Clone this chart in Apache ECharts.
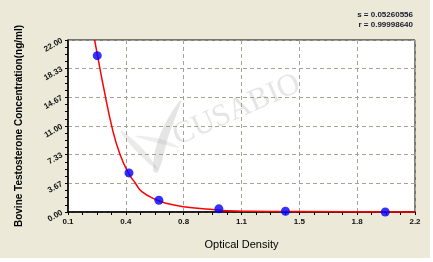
<!DOCTYPE html>
<html><head><meta charset="utf-8">
<script src="https://cdn.jsdelivr.net/npm/echarts@6/dist/echarts.min.js"></script>
<style>html,body{margin:0;padding:0;background:#fff}#c{width:433px;height:262px}</style>
</head><body><div id="c"></div>
<script>
// Data
const pointX = [0.277, 0.469, 0.65, 1.013, 1.416, 2.02];
const pointY = [20.0, 5.0, 1.5, 0.4, 0.1, 0.0];
const curveX = [0.261, 0.277, 0.313, 0.37, 0.416, 0.467, 0.507, 0.547, 0.638, 0.70, 0.799, 0.96, 1.06, 1.20, 1.44];
const curveY = [22.0, 20.2, 16.2, 10.5, 7.29, 4.95, 3.71, 2.60, 1.53, 1.08, 0.68, 0.34, 0.17, 0.09, 0.05];
const tailX = [1.44, 1.45, 2.2];
const tailY = [0.05, 0.0, 0.0];
const xTickLabels = ['0.1', '0.4', '0.8', '1.1', '1.5', '1.8', '2.2'];
const yTickLabels = ['0.00', '3.67', '7.33', '11.00', '14.67', '18.33', '22.00'];
const statS = 's = 0.05260556';
const statR = 'r = 0.99998640';

const font = '"Liberation Sans", Arial, sans-serif';
const chart = echarts.init(document.getElementById('c'), null, {renderer: 'canvas'});
const xMin = 0.1, xMax = 2.2, xInt = (xMax - xMin) / (xTickLabels.length - 1);
const yMax = 22, yInt = yMax / (yTickLabels.length - 1);
const wm = 'rgba(150,150,150,0.25)';
chart.setOption({
  animation: false,
  backgroundColor: '#fff',
  graphic: [
    {type: 'rect', shape: {x: 0, y: 0, width: 430, height: 258}, style: {fill: '#ECE9D8'}, z: -10, silent: true},
    {type: 'text', x: 413, y: 11, style: {text: statS, font: 'bold 8px ' + font, fill: '#1a1a2e', textAlign: 'right'}},
    {type: 'text', x: 413, y: 21, style: {text: statR, font: 'bold 8px ' + font, fill: '#1a1a2e', textAlign: 'right'}},
    {type: 'text', x: 181, y: 152, rotation: 0.42, style: {text: 'CUSABIO', font: '31px "Liberation Serif", serif', fill: wm, textVerticalAlign: 'bottom'}, z: 100, silent: true},
    {type: 'polygon', shape: {points: [[153,170],[160,135],[181,100],[168,138],[158,172]], smooth: 0.4}, style: {fill: wm}, z: 100, silent: true},
    {type: 'polygon', shape: {points: [[120,130],[140,146],[158,170],[137,152]], smooth: 0.4}, style: {fill: 'rgba(150,150,150,0.2)'}, z: 100, silent: true},
    {type: 'polygon', shape: {points: [[135,136],[160,139],[180,148],[158,143]], smooth: 0.4}, style: {fill: 'rgba(150,150,150,0.16)'}, z: 100, silent: true}
  ],
  grid: {left: 68, right: 18, top: 40, bottom: 50, show: true, backgroundColor: '#fff', borderColor: '#000', borderWidth: 1},
  xAxis: {
    type: 'value', min: xMin, max: xMax, interval: xInt,
    name: 'Optical Density', nameLocation: 'middle', nameGap: 27,
    nameTextStyle: {fontFamily: font, fontSize: 11, color: '#000'},
    axisLine: {show: true, lineStyle: {color: '#000', width: 1.5}},
    axisTick: {show: true, length: 3, lineStyle: {color: '#000'}},
    minorTick: {show: true, splitNumber: 4, length: 3, lineStyle: {color: '#000'}},
    axisLabel: {fontFamily: font, fontSize: 8, fontWeight: 'bold', color: '#111', margin: 6,
      formatter: v => xTickLabels[Math.round((v - xMin) / xInt)] ?? ''},
    splitLine: {show: true, lineStyle: {color: '#A8A392', type: [4, 3], width: 1}}
  },
  yAxis: {
    type: 'value', min: 0, max: yMax, interval: yInt,
    name: 'Bovine Testosterone Concentration(ng/ml)', nameLocation: 'middle', nameGap: 44,
    nameTextStyle: {fontFamily: font, fontSize: 10, fontWeight: 'bold', color: '#000'},
    axisLine: {show: true, lineStyle: {color: '#000', width: 1.5}},
    axisTick: {show: true, length: 3, lineStyle: {color: '#000'}},
    minorTick: {show: true, splitNumber: 4, length: 3, lineStyle: {color: '#000'}},
    axisLabel: {fontFamily: font, fontSize: 8, fontWeight: 'bold', color: '#111', rotate: 30, margin: 6,
      formatter: v => yTickLabels[Math.round(v / yInt)] ?? ''},
    splitLine: {show: true, lineStyle: {color: '#A8A392', type: [4, 3], width: 1}}
  },
  series: [
    {type: 'line', data: curveX.map((x, i) => [x, curveY[i]]), showSymbol: false, smooth: 0.5,
      lineStyle: {color: '#FF0000', width: 1.5}, z: 3, clip: true},
    {type: 'line', data: tailX.map((x, i) => [x, tailY[i]]), showSymbol: false, smooth: false,
      lineStyle: {color: '#FF0000', width: 1.5}, z: 3, clip: false},
    {type: 'scatter', data: pointX.map((x, i) => [x, pointY[i]]), symbol: 'circle', symbolSize: 9,
      itemStyle: {color: '#0000FF'}, z: 4, clip: false}
  ]
});
</script></body></html>
